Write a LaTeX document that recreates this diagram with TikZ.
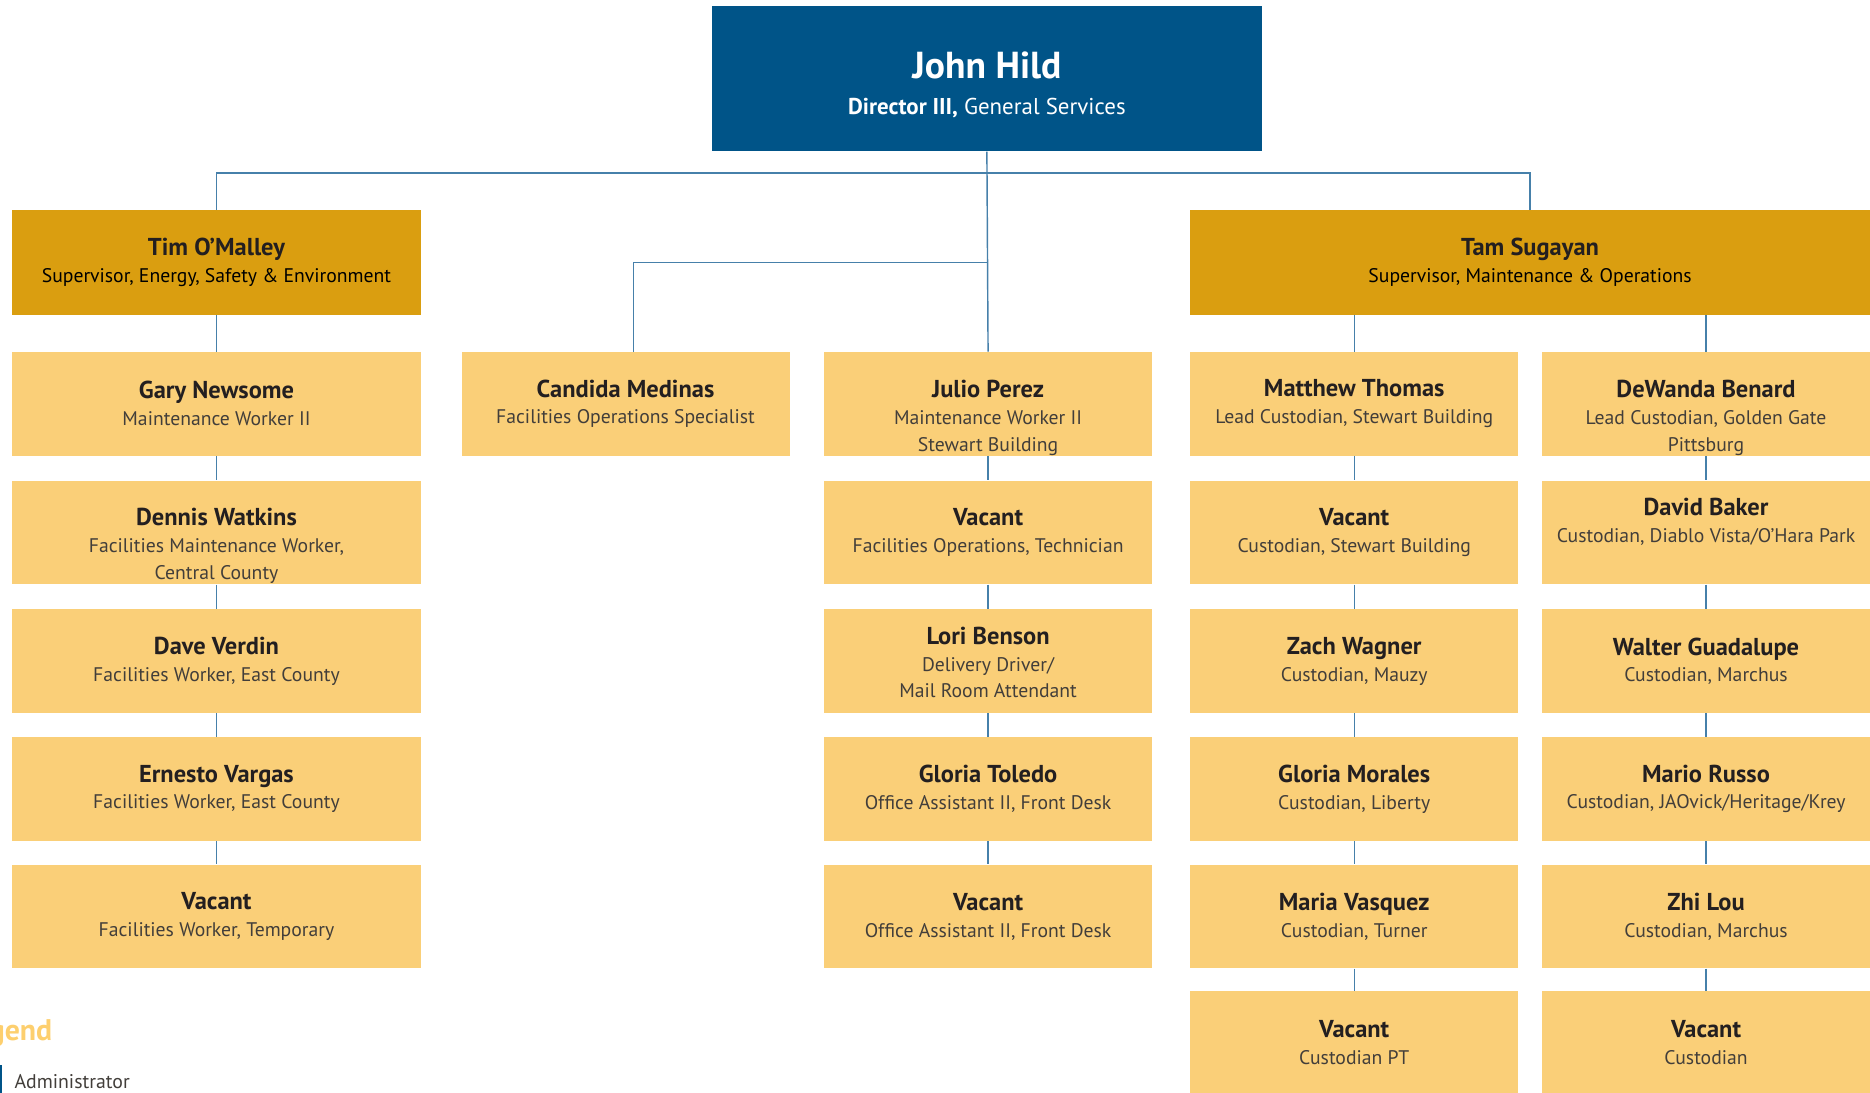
\documentclass[tikz,border=0pt]{standalone}
\usepackage{fontspec}
\setmainfont{PT Sans}

\definecolor{hildcol}{RGB}{0,84,136}
\definecolor{supcol}{RGB}{218,158,16}
\definecolor{staffcol}{RGB}{250,207,120}
\definecolor{linkcol}{RGB}{70,128,170}
\definecolor{namecol}{RGB}{35,31,32}
\definecolor{subcol}{RGB}{66,62,58}
\definecolor{legendcol}{RGB}{253,207,110}

\newcommand{\staffname}[1]{{\fontsize{20.5}{22.5}\selectfont\bfseries\color{namecol}#1}}

\begin{document}
\begin{tikzpicture}[x=1pt, y=-1pt]
    \tikzstyle{staff}=[rectangle, fill=staffcol, minimum width=275, minimum height=87, inner sep=0pt]
    \tikzstyle{wide}=[minimum width=343]
    \tikzstyle{super}=[rectangle, fill=supcol, minimum height=88, inner sep=0pt]
    \tikzstyle{who}=[align=center, inner sep=0pt, text=subcol, font=\fontsize{16.5}{22.5}\selectfont]
    \tikzstyle{link}=[draw=linkcol, line width=1.2pt]

    \useasboundingbox (0,0) rectangle (1568,916);
    \clip (0,0) rectangle (1568,916);

    % director
    \node[rectangle, fill=hildcol, minimum width=461, minimum height=122,
      label={[text=white, yshift=11, font=\fontsize{31.5}{33}\selectfont\bfseries]center:John Hild},
      label={[text=white, yshift=-24.5, font=\fontsize{19.2}{21}\selectfont]center:{\textbf{Director III,} General Services}}]
      (hild) at (827.5,66) {};

    % supervisors
    \node[super, minimum width=343, label={[who, text=black]center:{\staffname{Tim O’Malley}\\Supervisor, Energy, Safety \& Environment}}] (tim) at (181.5,220) {};
    \node[super, minimum width=570, label={[who, text=black]center:{\staffname{Tam Sugayan}\\Supervisor, Maintenance \& Operations}}] (tam) at (1283,220) {};

    % left column
    \node[staff, wide, label={[who]center:{\staffname{Gary Newsome}\\Maintenance Worker II}}] (gary) at (181.5,338.5) {};
    \node[staff, wide, label={[who, yshift=-11]center:{\staffname{Dennis Watkins}\\Facilities Maintenance Worker,\\Central County}}] (dennis) at (181.5,446.5) {};
    \node[staff, wide, label={[who]center:{\staffname{Dave Verdin}\\Facilities Worker, East County}}] (dave) at (181.5,554.5) {};
    \node[staff, wide, label={[who]center:{\staffname{Ernesto Vargas}\\Facilities Worker, East County}}] (ernesto) at (181.5,661.5) {};
    \node[staff, wide, label={[who]center:{\staffname{Vacant}\\Facilities Worker, Temporary}}] (vacTemp) at (181.5,768.5) {};

    \node[staff, label={[who]center:{\staffname{Candida Medinas}\\Facilities Operations Specialist}}] (candida) at (524.5,338.5) {};

    % middle column
    \node[staff, label={[who, yshift=-12]center:{\staffname{Julio Perez}\\Maintenance Worker II\\Stewart Building}}] (julio) at (828.5,338.5) {};
    \node[staff, label={[who]center:{\staffname{Vacant}\\Facilities Operations, Technician}}] (vacTech) at (828.5,446.5) {};
    \node[staff, label={[who, yshift=-1]center:{\staffname{Lori Benson}\\Delivery Driver/\\Mail Room Attendant}}] (lori) at (828.5,554.5) {};
    \node[staff, label={[who]center:{\staffname{Gloria Toledo}\\Office Assistant II, Front Desk}}] (toledo) at (828.5,661.5) {};
    \node[staff, label={[who]center:{\staffname{Vacant}\\Office Assistant II, Front Desk}}] (vacDesk) at (828.5,768.5) {};

    % custodians, first column
    \node[staff, label={[who]center:{\staffname{Matthew Thomas}\\Lead Custodian, Stewart Building}}] (matthew) at (1135.5,338.5) {};
    \node[staff, label={[who]center:{\staffname{Vacant}\\Custodian, Stewart Building}}] (vacStew) at (1135.5,446.5) {};
    \node[staff, label={[who]center:{\staffname{Zach Wagner}\\Custodian, Mauzy}}] (zach) at (1135.5,554.5) {};
    \node[staff, label={[who]center:{\staffname{Gloria Morales}\\Custodian, Liberty}}] (morales) at (1135.5,661.5) {};
    \node[staff, label={[who]center:{\staffname{Maria Vasquez}\\Custodian, Turner}}] (maria) at (1135.5,768.5) {};
    \node[staff, label={[who]center:{\staffname{Vacant}\\Custodian PT}}] (vacPT) at (1135.5,874.5) {};

    % custodians, second column
    \node[staff, label={[who, yshift=-12]center:{\staffname{DeWanda Benard}\\Lead Custodian, Golden Gate\\Pittsburg}}] (dewanda) at (1430.5,338.5) {};
    \node[staff, label={[who, yshift=9]center:{\staffname{David Baker}\\Custodian, Diablo Vista/O’Hara Park}}] (baker) at (1430.5,446.5) {};
    \node[staff, label={[who]center:{\staffname{Walter Guadalupe}\\Custodian, Marchus}}] (walter) at (1430.5,554.5) {};
    \node[staff, label={[who]center:{\staffname{Mario Russo}\\Custodian, JAOvick/Heritage/Krey}}] (mario) at (1430.5,661.5) {};
    \node[staff, label={[who]center:{\staffname{Zhi Lou}\\Custodian, Marchus}}] (zhi) at (1430.5,768.5) {};
    \node[staff, label={[who]center:{\staffname{Vacant}\\Custodian}}] (vacCust) at (1430.5,874.5) {};

    % connectors
    \coordinate (busR) at (1283,145);
    \coordinate (branch) at (828,220);
    \draw[link] (hild.south) -- (julio.north);
    \draw[link] (tim.north) |- (busR) -- (tam.north);
    \draw[link] ([xshift=6.5]candida.north) |- (branch);
    \draw[link] (tim.south) -- (gary.north);
    \draw[link] (matthew.north) -- (matthew.north |- tam.south);
    \draw[link] (dewanda.north) -- (dewanda.north |- tam.south);
    \foreach \a/\b in {gary/dennis, dennis/dave, dave/ernesto, ernesto/vacTemp,
                       julio/vacTech, vacTech/lori, lori/toledo, toledo/vacDesk,
                       matthew/vacStew, vacStew/zach, zach/morales, morales/maria, maria/vacPT,
                       dewanda/baker, baker/walter, walter/mario, mario/zhi, zhi/vacCust}
      \draw[link] (\a.south) -- (\b.north);

    % legend
    \node[anchor=east, inner sep=0pt, text=legendcol, font=\fontsize{25}{27}\selectfont\bfseries] (legend) at (44,866) {Legend};
    \fill[hildcol] (-20,893) rectangle (2,930);
    \node[anchor=west, inner sep=0pt, text=subcol, font=\fontsize{16.6}{18}\selectfont] (admin) at (12,907) {Administrator};
\end{tikzpicture}
\end{document}
